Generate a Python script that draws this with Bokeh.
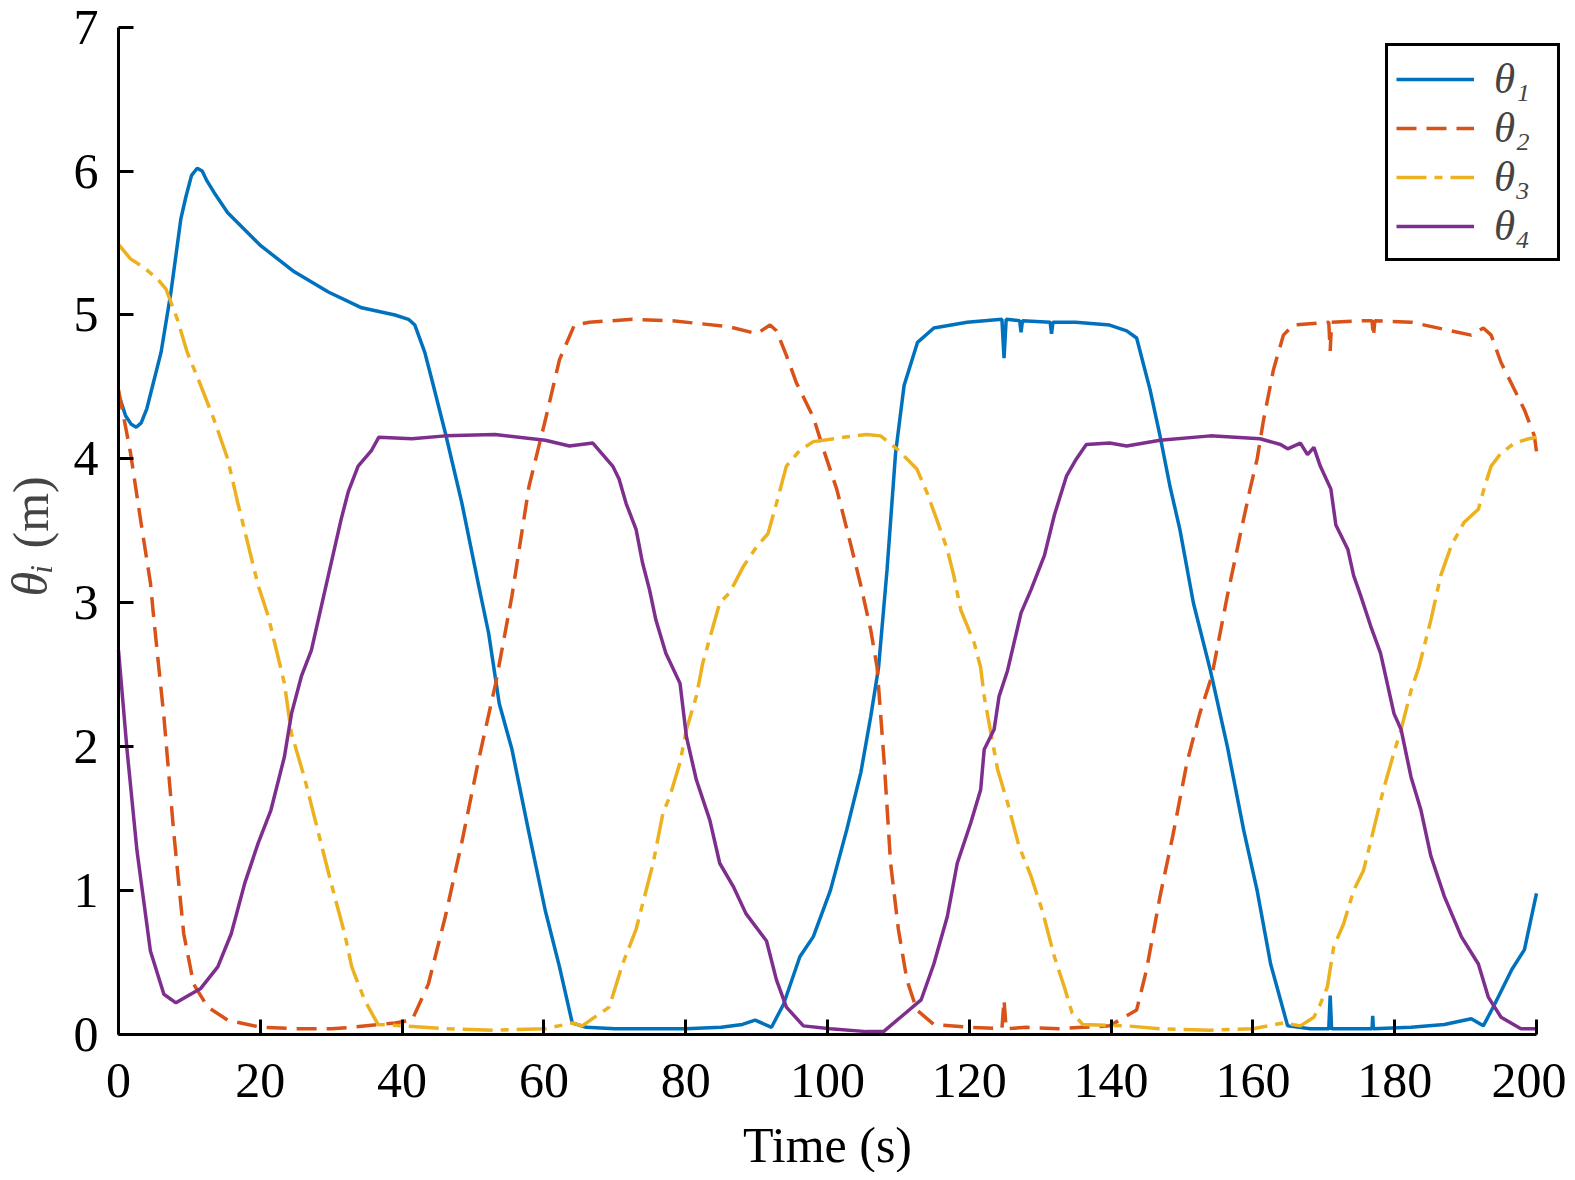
import math
from bokeh.plotting import figure
from bokeh.models import Range1d, Legend, LegendItem, Label, FixedTicker
from bokeh.embed import file_html
from bokeh.resources import INLINE

# ---------------- data ----------------
T1 = [0, 1, 1.8, 2.5, 3.2, 4, 6, 7.4, 8.8, 9.5, 10.3, 11.1, 11.8, 12.5, 13.5, 15.4, 20.1, 24.8,
      29.6, 34.3, 39, 40.9, 41.8, 43.2, 44.2, 46.1, 48.4, 50.8, 52.2, 53.7, 55.5, 57.9, 60.2,
      62.2, 64, 66, 70, 75, 80, 85, 88, 89.8, 92.1, 93.8, 96.1, 98, 100.4, 102.7, 104.7, 106.1,
      107.2, 108.4, 109.6, 110.8, 112.7, 115, 119.7, 124.6, 124.9, 125.2, 127.1, 127.3, 127.5,
      131.4, 131.6, 131.8, 135, 139.8, 142.2, 143.6, 145.5, 146.9, 148.3, 149.7, 151.6, 154,
      156.4, 158.7, 160.6, 162.5, 164.9, 168.1, 170.7, 170.9, 171.1, 174, 176.8, 176.9, 177.0,
      182.3, 187, 190.8, 192.5, 194.1, 196.5, 198.3, 200]
V1 = [4.45, 4.3, 4.24, 4.22, 4.25, 4.35, 4.74, 5.16, 5.67, 5.82, 5.97, 6.02, 6.0, 5.93, 5.85,
      5.71, 5.48, 5.30, 5.16, 5.05, 5.0, 4.97, 4.93, 4.74, 4.55, 4.18, 3.70, 3.12, 2.79, 2.30,
      1.98, 1.40, 0.86, 0.47, 0.08, 0.05, 0.04, 0.04, 0.04, 0.05, 0.07, 0.1, 0.05, 0.21, 0.54,
      0.68, 1.0, 1.42, 1.82, 2.21, 2.55, 3.23, 4.04, 4.51, 4.81, 4.91, 4.95, 4.97, 4.70, 4.97,
      4.96, 4.88, 4.96, 4.95, 4.87, 4.95, 4.95, 4.93, 4.89, 4.84, 4.48, 4.16, 3.81, 3.51, 3.0,
      2.53, 2.0, 1.42, 1.0, 0.49, 0.06, 0.04, 0.04, 0.27, 0.04, 0.04, 0.04, 0.13, 0.04, 0.05,
      0.07, 0.11, 0.06, 0.21, 0.45, 0.59, 0.98]

T2 = [0, 1.7, 3.1, 4.5, 5, 6.4, 7.8, 9.2, 10.6, 12.6, 15.4, 20.1, 25, 30, 33, 36.7, 39, 41.4,
      43.7, 46.1, 48.4, 50.8, 53.2, 55.5, 57.9, 60.2, 62.2, 64.3, 66.4, 72.5, 78, 82, 86, 90,
      91.9, 92.8, 94.2, 95.6, 98, 99.4, 101.3, 103.2, 104.7, 106.1, 107, 108, 108.9, 110, 111.2,
      112.6, 115, 120, 124.6, 124.9, 125.2, 128, 132.7, 136, 139.8, 143.6, 145, 146.9, 148.7,
      150.7, 152.5, 154.2, 156.4, 158.2, 159.6, 160.6, 161.5, 162.9, 164.3, 165.7, 170.7, 170.9,
      171.1, 175, 176.8, 177.0, 177.2, 182.3, 187, 190.8, 192.5, 193.6, 195, 196.9, 198.3,
      199.7, 200]
V2 = [4.48, 4.04, 3.58, 3.14, 2.88, 2.21, 1.40, 0.70, 0.35, 0.19, 0.10, 0.05, 0.04, 0.04,
      0.05, 0.07, 0.08, 0.10, 0.35, 0.82, 1.33, 1.91, 2.44, 3.05, 3.81, 4.27, 4.69, 4.93, 4.95,
      4.97, 4.96, 4.94, 4.92, 4.87, 4.93, 4.89, 4.72, 4.53, 4.29, 4.07, 3.79, 3.42, 3.12, 2.81,
      2.55, 1.89, 1.19, 0.73, 0.38, 0.17, 0.07, 0.05, 0.04, 0.24, 0.04, 0.05, 0.04, 0.05, 0.06,
      0.17, 0.45, 0.96, 1.38, 1.89, 2.23, 2.49, 3.05, 3.47, 3.79, 4.0, 4.27, 4.62, 4.86, 4.93,
      4.95, 4.75, 4.95, 4.96, 4.96, 4.85, 4.96, 4.95, 4.9, 4.86, 4.91, 4.86, 4.67, 4.48, 4.34,
      4.16, 4.05]

T3 = [0, 1.7, 3.6, 5.5, 6.7, 8.3, 9.7, 11.6, 13.5, 15.4, 16.8, 18.2, 19.7, 21.1, 23.4, 24.4,
      26.2, 28.2, 30, 31.9, 32.9, 34.7, 36.6, 40, 46, 53, 60.2, 64, 65.4, 69.2, 71.1, 73, 74.2,
      75.4, 76.8, 77.8, 79.2, 80.1, 81.5, 82.4, 84.8, 86.2, 88.1, 90, 91.6, 92.8, 94.2, 96.1, 98,
      102.3, 105.5, 107.5, 109.8, 112.6, 114, 115.4, 116.9, 117.8, 118.8, 120.7, 121.6, 122.1,
      122.8, 124, 125.4, 127, 128.7, 130.3, 132, 133.4, 134.5, 136, 142.2, 146.9, 154, 160,
      164.3, 166.7, 168.6, 169.5, 170.5, 171.4, 172.8, 174.2, 175.6, 177, 178.4, 179.9, 180.9,
      182.3, 183.4, 185.1, 186.5, 188, 189.8, 191.8, 192.7, 193.6, 195, 196.9, 198.9, 200]
V3 = [5.49, 5.39, 5.33, 5.25, 5.18, 4.97, 4.74, 4.51, 4.27, 4.0, 3.70, 3.42, 3.12, 2.91, 2.44,
      2.09, 1.79, 1.40, 1.05, 0.70, 0.47, 0.24, 0.07, 0.06, 0.04, 0.03, 0.04, 0.08, 0.06, 0.19,
      0.49, 0.73, 0.96, 1.19, 1.54, 1.66, 1.89, 2.12, 2.35, 2.58, 3.0, 3.07, 3.25, 3.39, 3.48,
      3.69, 3.95, 4.06, 4.12, 4.15, 4.17, 4.16, 4.07, 3.93, 3.77, 3.58, 3.37, 3.19, 2.95, 2.72,
      2.55, 2.35, 2.16, 1.84, 1.61, 1.31, 1.10, 0.86, 0.54, 0.33, 0.15, 0.07, 0.06, 0.04, 0.03,
      0.04, 0.08, 0.06, 0.12, 0.21, 0.33, 0.61, 0.77, 1.0, 1.14, 1.42, 1.70, 1.96, 2.12, 2.39,
      2.55, 2.88, 3.19, 3.40, 3.56, 3.65, 3.81, 3.95, 4.04, 4.11, 4.14, 4.15]

T4 = [0, 1.2, 2.6, 4.5, 6.4, 8.1, 9.5, 11.6, 14, 15.9, 17.8, 19.7, 21.5, 23.4, 24.4, 25.8,
      27.2, 29.6, 31.4, 32.4, 33.8, 35.7, 36.7, 41.4, 46.1, 53.1, 60.2, 63.6, 66.9, 69.7, 70.6,
      71.6, 73, 73.9, 74.9, 75.8, 77.2, 79.2, 80.1, 81.5, 83.4, 84.8, 86.7, 88.5, 91.4, 92.8,
      94.2, 96.6, 100.4, 105.5, 107.9, 110.3, 113.2, 115, 116.9, 118.3, 120.2, 121.6, 122.1,
      123.5, 124.2, 125.4, 127.3, 128.7, 130.6, 132, 133.7, 135.1, 136.5, 139.8, 142.2, 146.9,
      154, 161, 163.9, 164.9, 166.7, 167.7, 168.6, 169.5, 171, 171.7, 173.4, 174.2, 175.2,
      176.6, 178, 179.9, 180.9, 182.3, 183.7, 185.1, 187, 189.4, 191.8, 193.2, 195, 197.8, 200]
V4 = [2.67, 1.98, 1.28, 0.58, 0.28, 0.22, 0.26, 0.32, 0.47, 0.70, 1.05, 1.33, 1.56, 1.93,
      2.23, 2.49, 2.67, 3.19, 3.58, 3.77, 3.95, 4.06, 4.15, 4.14, 4.16, 4.17, 4.13, 4.09, 4.11,
      3.95, 3.86, 3.69, 3.51, 3.28, 3.09, 2.88, 2.65, 2.44, 2.07, 1.77, 1.49, 1.19, 1.03, 0.84,
      0.65, 0.38, 0.19, 0.06, 0.04, 0.02, 0.02, 0.12, 0.24, 0.49, 0.82, 1.19, 1.47, 1.70, 1.98,
      2.12, 2.35, 2.53, 2.93, 3.09, 3.33, 3.61, 3.88, 4.0, 4.10, 4.11, 4.09, 4.13, 4.16, 4.14,
      4.10, 4.07, 4.11, 4.03, 4.08, 3.95, 3.79, 3.54, 3.37, 3.19, 3.05, 2.84, 2.65, 2.23, 2.12,
      1.79, 1.56, 1.24, 0.96, 0.68, 0.49, 0.26, 0.12, 0.04, 0.04]

SERIES_LABELS = ["θ₁", "θ₂", "θ₃", "θ₄"]
X_TICKS = [0, 20, 40, 60, 80, 100, 120, 140, 160, 180, 200]
Y_TICKS = [0, 1, 2, 3, 4, 5, 6, 7]
X_LIMITS = (0, 200)
Y_LIMITS = (0, 7)

# ---------------- figure ----------------
FONT = "Liberation Serif"
W, H = 1566, 1172
# frame spans the whole canvas; axes are pinned at data 0 and bounded to the data limits
p = figure(width=W, height=H,
           x_range=Range1d(-16.643, 204.231), y_range=Range1d(-0.959, 7.1855),
           output_backend="svg", toolbar_location=None,
           min_border_left=0, min_border_right=0, min_border_top=0, min_border_bottom=0)
p.outline_line_color = None
p.background_fill_color = "white"
p.border_fill_color = "white"
p.xgrid.visible = False
p.ygrid.visible = False

for ax in (p.xaxis[0], p.yaxis[0]):
    ax.fixed_location = 0
    ax.axis_line_width = 3
    ax.axis_line_color = "black"
    ax.major_tick_line_width = 3
    ax.major_tick_line_color = "black"
    ax.major_tick_in = 15
    ax.major_tick_out = 0
    ax.minor_tick_line_color = None
    ax.major_label_text_font = FONT
    ax.major_label_text_font_size = "50px"
    ax.major_label_text_color = "black"
    ax.axis_label_text_font = FONT
    ax.axis_label_text_font_size = "50px"
    ax.axis_label_text_font_style = "normal"
    ax.axis_label_text_color = "black"

p.xaxis[0].bounds = X_LIMITS
p.yaxis[0].bounds = Y_LIMITS
p.xaxis[0].ticker = FixedTicker(ticks=X_TICKS)
p.yaxis[0].ticker = FixedTicker(ticks=Y_TICKS)
p.xaxis[0].major_label_standoff = 30
p.yaxis[0].major_label_standoff = 20
p.xaxis[0].axis_label = "Time (s)"
p.xaxis[0].axis_label_standoff = 16

COLORS = ["#0072BD", "#D95319", "#EDB120", "#7E2F8E"]
r1 = p.line(T1, V1, line_color=COLORS[0], line_width=3.5)
r2 = p.line(T2, V2, line_color=COLORS[1], line_width=3.5, line_dash="20 10")
r3 = p.line(T3, V3, line_color=COLORS[2], line_width=3.5, line_dash="30 8 8 8")
r4 = p.line(T4, V4, line_color=COLORS[3], line_width=3.5)

legend = Legend(items=[LegendItem(label=SERIES_LABELS[i], renderers=[r])
                       for i, r in enumerate([r1, r2, r3, r4])],
                location=(1385, 911), border_line_color="black", border_line_width=3,
                border_line_alpha=1.0,
                padding=8, spacing=0, glyph_width=78, glyph_height=40, label_standoff=20,
                label_width=55, label_text_font=FONT, label_text_font_style="italic",
                label_text_font_size="43px", background_fill_color="white",
                background_fill_alpha=1.0, margin=0)
p.add_layout(legend)

# y-axis title: italic theta with subscript i, then (m)
p.add_layout(Label(x=29, y=576, x_units="screen", y_units="screen", text="θᵢ",
                   angle=math.pi / 2, text_font=FONT, text_font_style="italic",
                   text_font_size="50px", text_baseline="alphabetic", text_align="left"))
p.add_layout(Label(x=30, y=624, x_units="screen", y_units="screen", text="(m)",
                   angle=math.pi / 2, text_font=FONT, text_font_style="normal",
                   text_font_size="50px", text_baseline="alphabetic", text_align="left"))

open("out.html", "w").write(file_html(p, INLINE))
